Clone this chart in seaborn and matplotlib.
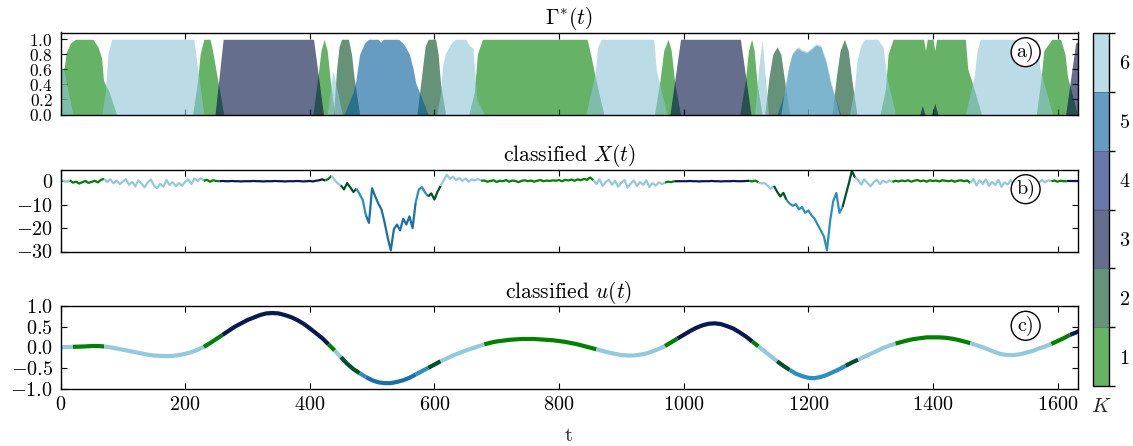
import numpy as np
import pandas as pd
import matplotlib
matplotlib.use("Agg")
import matplotlib.pyplot as plt
import seaborn as sns
from matplotlib.colors import ListedColormap, BoundaryNorm, to_rgb
from matplotlib.cm import ScalarMappable

# ---------------- data ----------------
# classified control signal u(t), sampled every 10 time units
t_u = np.arange(0, 1641, 10)
u_vals = [
    0.00, 0.005, 0.01, 0.015, 0.02, 0.03, 0.03, 0.02, 0.00, -0.03,
    -0.06, -0.09, -0.12, -0.15, -0.18, -0.20, -0.21, -0.215, -0.21, -0.19,
    -0.16, -0.12, -0.06, 0.01, 0.10, 0.20, 0.30, 0.40, 0.50, 0.58,
    0.66, 0.72, 0.78, 0.82, 0.83, 0.82, 0.78, 0.73, 0.66, 0.57,
    0.46, 0.34, 0.22, 0.07, -0.08, -0.24, -0.40, -0.53, -0.63, -0.72,
    -0.80, -0.85, -0.87, -0.87, -0.84, -0.80, -0.74, -0.66, -0.58, -0.50,
    -0.42, -0.34, -0.27, -0.20, -0.14, -0.08, -0.03, 0.02, 0.07, 0.11,
    0.14, 0.16, 0.18, 0.19, 0.20, 0.20, 0.20, 0.19, 0.18, 0.17,
    0.15, 0.13, 0.10, 0.07, 0.03, -0.01, -0.05, -0.09, -0.13, -0.16,
    -0.19, -0.20, -0.20, -0.18, -0.15, -0.10, -0.04, 0.03, 0.12, 0.21,
    0.30, 0.39, 0.47, 0.53, 0.57, 0.58, 0.56, 0.51, 0.45, 0.36,
    0.26, 0.14, 0.02, -0.10, -0.22, -0.34, -0.45, -0.55, -0.64, -0.70,
    -0.74, -0.75, -0.72, -0.67, -0.60, -0.53, -0.45, -0.37, -0.30, -0.23,
    -0.16, -0.09, -0.02, 0.04, 0.09, 0.13, 0.17, 0.20, 0.22, 0.24,
    0.24, 0.24, 0.23, 0.21, 0.18, 0.14, 0.10, 0.05, 0.00, -0.06,
    -0.12, -0.17, -0.19, -0.19, -0.17, -0.13, -0.09, -0.03, 0.02, 0.08,
    0.15, 0.22, 0.30, 0.36, 0.42,
]

# classified state X(t), sampled every 5 time units
t_x = np.arange(0, 1641, 5)
x_vals = [
    0.5, 0.2, -0.3, 0.4, -0.6, -0.2, -1.0, -0.4, 0.1, -0.7, -0.3, 0.2, -0.5, 0.6, 1.0, -0.4, 0.8, -0.9, 0.3, -1.2,
    -0.2, 0.9, -1.5, -0.3, -2.2, 0.4, -1.0, -2.6, -0.5, 0.7, -1.8, -3.0, -1.1, -2.4, 0.5, -1.6, -0.4, -2.1, -0.8, -1.9,
    -0.3, 0.8, -1.2, 1.2, 0.1, 1.3, 0.2, 0.6, -0.2, 0.4, 0.1, 0.0, 0.1, 0.0, 0.0, 0.1, 0.0, 0.0, -0.1, 0.0,
    0.0, 0.0, 0.1, 0.0, 0.0, -0.1, 0.0, 0.0, 0.0, 0.1, 0.0, 0.0, -0.1, 0.0, 0.0, 0.0, 0.1, 0.0, -0.1, 0.0,
    0.1, -0.1, 0.2, 0.4, 0.8, 0.3, 1.0, 2.3, 0.5, -1.0, -1.8, -3.5, -0.8, -2.6, -4.6, -3.2, -5.5, -8.0, -14.5, -17.8,
    -3.0, -6.5, -9.5, -12.0, -17.5, -24.0, -29.5, -20.5, -18.5, -21.0, -16.0, -18.5, -15.0, -20.0, -9.0, -3.5, -2.5, -4.8, -6.5, -5.2,
    -7.8, -4.5, -2.0, 0.5, 2.8, 1.0, 2.0, 0.4, 1.4, 0.2, 1.2, -0.2, 0.8, 0.3, 1.0, 0.2, 0.3, -0.2, 0.1, 0.4,
    -0.3, 0.2, 0.0, 0.5, -0.2, 0.3, 0.1, -0.4, 0.2, 0.4, 0.0, 0.3, -0.2, 0.2, 0.5, 0.0, 0.3, 0.1, 0.4, 0.2,
    0.5, 0.0, 0.6, 0.3, 0.7, 0.2, 0.8, 0.4, 1.0, 0.6, 1.6, 0.4, -1.2, 0.8, -2.0, -0.3, 0.6, -1.5, 0.2, -2.4,
    -0.6, 0.5, -2.8, -1.0, 0.3, -2.0, -0.4, -1.6, 0.4, -2.5, -0.8, -1.9, -0.5, -1.2, -0.6, -0.2, -0.4, 0.0, 0.0, 0.0,
    0.0, 0.0, 0.1, 0.0, 0.0, -0.1, 0.0, 0.0, 0.0, 0.1, 0.0, 0.0, -0.1, 0.0, 0.0, 0.0, 0.1, 0.0, 0.0, 0.0,
    0.1, 0.2, -0.1, 0.3, -0.5, -1.0, -0.8, -2.0, -3.2, -2.0, -4.5, -6.5, -5.0, -8.0, -9.5, -10.5, -9.8, -12.0, -11.0, -13.5,
    -12.5, -14.5, -16.0, -18.5, -21.0, -23.5, -29.5, -17.0, -8.5, -5.0, -13.5, -11.0, -6.0, -1.0, 4.5, 1.5, 0.5, -1.5, 0.8, -0.8,
    -2.2, -0.4, 0.6, -1.2, 0.2, -0.6, 0.3, -0.3, 0.2, -0.1, 0.3, 0.0, 0.4, -0.2, 0.2, 0.5, 0.0, 0.3, -0.2, 0.4,
    0.1, 0.3, -0.1, 0.4, 0.2, 0.0, 0.3, -0.2, 0.2, 0.4, 0.0, 0.3, -0.8, 0.9, -1.8, 0.4, -1.2, 0.8, -2.0, -0.3,
    -1.6, 0.6, -2.4, -0.5, -1.4, 0.5, -2.1, -0.2, -1.3, 0.8, -0.9, 0.4, -1.6, 0.2, -0.7, 0.6, -0.5, 0.4, 0.0, 0.3,
    -0.2, 0.2, 0.0, 0.0, 0.0, 0.0, 0.0, 0.0, 0.0,
]

# classification segments: start, end, cluster label (56 = mixture of 5 and 6)
seg_start = [0, 13, 65, 228, 250, 420, 433, 448, 473, 485, 569, 586, 607, 674, 854, 969, 982,
             1104, 1117, 1144, 1163, 1251, 1270, 1332, 1456, 1588, 1612]
seg_end = [13, 65, 228, 250, 420, 433, 448, 473, 485, 569, 586, 607, 674, 854, 969, 982, 1104,
           1117, 1144, 1163, 1251, 1270, 1332, 1456, 1588, 1612, 1642]
seg_k = [6, 1, 6, 1, 3, 1, 6, 2, 56, 5, 56, 2, 6, 1, 6, 1, 3,
         1, 6, 2, 56, 2, 6, 1, 6, 1, 3]

# affiliation weights Gamma*_K(t), as (t, value) vertices
gamma1_t = [0, 6, 9, 16, 24, 52, 60, 66, 69, 78, 90,
            212, 220, 224, 230, 240, 244, 262,
            405, 413, 418, 423, 428, 433, 440,
            655, 664, 669, 677, 845, 852, 858, 872,
            953, 962, 968, 975, 980, 986, 995,
            1090, 1099, 1104, 1109, 1113, 1118, 1126,
            1315, 1324, 1328, 1336, 1385, 1388, 1391, 1400, 1403, 1406, 1452, 1456, 1462, 1478,
            1566, 1573, 1578, 1591, 1605, 1612, 1616, 1632]
gamma1_v = [0.60, 0.62, 0.82, 0.95, 1.0, 1.0, 0.9, 0.75, 0.45, 0.3, 0.0,
            0.0, 0.45, 0.8, 1.0, 1.0, 0.85, 0.0,
            0.0, 0.5, 0.85, 1.0, 0.85, 0.45, 0.0,
            0.0, 0.3, 0.8, 1.0, 1.0, 0.75, 0.5, 0.0,
            0.0, 0.45, 0.85, 1.0, 0.85, 0.4, 0.0,
            0.0, 0.45, 0.85, 1.0, 0.85, 0.4, 0.0,
            0.0, 0.35, 0.8, 1.0, 1.0, 0.85, 1.0, 1.0, 0.85, 1.0, 1.0, 0.6, 0.45, 0.0,
            0.0, 0.45, 0.85, 1.0, 1.0, 0.8, 0.5, 0.0]
gamma2_t = [438, 443, 447, 451, 462, 467, 471, 480,
            572, 580, 585, 590, 602, 606, 610, 618,
            1130, 1137, 1143, 1150, 1156, 1162, 1170,
            1238, 1245, 1251, 1258, 1264, 1270, 1278]
gamma2_v = [0.0, 0.6, 0.9, 1.0, 1.0, 0.8, 0.5, 0.0,
            0.0, 0.55, 0.9, 1.0, 1.0, 0.8, 0.4, 0.0,
            0.0, 0.5, 0.8, 0.9, 0.8, 0.45, 0.0,
            0.0, 0.5, 0.85, 1.0, 0.85, 0.45, 0.0]
gamma3_t = [248, 261, 406, 422,
            978, 995, 1091, 1108,
            1379, 1383, 1387, 1398, 1403, 1408,
            1613, 1629, 1642]
gamma3_v = [0.0, 1.0, 1.0, 0.0,
            0.0, 1.0, 1.0, 0.0,
            0.0, 0.12, 0.0, 0.0, 0.15, 0.0,
            0.0, 0.95, 1.0]
gamma5_t = [455, 470, 474, 480, 488, 494, 510, 514, 518, 543, 552, 560, 566, 570, 590,
            1150, 1162, 1168, 1174, 1182, 1190, 1198, 1204, 1212, 1220, 1228, 1236, 1252]
gamma5_v = [0.0, 0.3, 0.45, 0.8, 0.95, 1.0, 1.0, 0.96, 1.0, 1.0, 0.92, 0.8, 0.6, 0.42, 0.0,
            0.0, 0.3, 0.6, 0.8, 0.88, 0.84, 0.82, 0.86, 0.92, 0.9, 0.7, 0.4, 0.0]
gamma6_t = [0, 5, 20,
            66, 72, 76, 82, 214, 218, 230,
            428, 437, 441, 452,
            604, 610, 613, 618, 628, 634, 650, 656, 662, 668, 680,
            843, 858, 862, 868, 952, 956, 973,
            1114, 1120, 1126, 1130, 1136,
            1156, 1164, 1170, 1176, 1184, 1190, 1198, 1204, 1212, 1220, 1228, 1236, 1250,
            1266, 1274, 1278, 1284, 1290, 1311, 1320, 1326, 1340,
            1452, 1466, 1471, 1476, 1567, 1572, 1592]
gamma6_v = [0.62, 0.6, 0.0,
            0.0, 0.3, 0.8, 1.0, 1.0, 0.75, 0.0,
            0.0, 0.58, 0.45, 0.0,
            0.0, 0.3, 0.65, 0.82, 0.96, 1.0, 1.0, 0.92, 0.88, 0.2, 0.0,
            0.0, 0.55, 0.9, 1.0, 1.0, 0.6, 0.0,
            0.0, 0.6, 1.0, 0.6, 0.0,
            0.0, 0.45, 0.7, 0.84, 0.9, 0.86, 0.84, 0.88, 0.94, 0.92, 0.74, 0.45, 0.0,
            0.0, 0.35, 0.7, 0.92, 1.0, 1.0, 0.9, 0.5, 0.0,
            0.0, 0.5, 0.85, 1.0, 1.0, 0.6, 0.0]

k_levels = [1, 2, 3, 4, 5, 6]

# ---------------- style ----------------
fill_base = {1: "#008000", 2: "#004921", 3: "#000d43", 4: "#002071", 5: "#005a99", 6: "#8fc6d7"}
line_pal = {1: "#008000", 2: "#00522a", 3: "#08194f", 5: "#1b6fa8", 56: "#2b8fbd", 6: "#93c8dd"}
ALPHA = 0.6
TICK_FS = 14.5
TITLE_FS = 15.5

sns.set_theme(style="ticks")
plt.rcParams.update({
    "font.family": ["cmr10", "DejaVu Serif"],
    "mathtext.fontset": "cm",
    "axes.formatter.use_mathtext": True,
    "axes.unicode_minus": True,
    "font.size": TICK_FS,
    "axes.titlesize": TITLE_FS,
    "axes.labelsize": 15,
    "xtick.labelsize": TICK_FS,
    "ytick.labelsize": TICK_FS,
    "axes.edgecolor": "black",
    "axes.linewidth": 1.0,
    "xtick.color": "black",
    "ytick.color": "black",
    "text.color": "black",
})

W_PX, H_PX = 1133, 446
fig = plt.figure(figsize=(W_PX / 100, H_PX / 100), dpi=100)


def box(x0, y0, x1, y1):
    return [x0 / W_PX, 1 - y1 / H_PX, (x1 - x0) / W_PX, (y1 - y0) / H_PX]


ax_a = fig.add_axes(box(60.5, 32.5, 1077.5, 114.5))
ax_b = fig.add_axes(box(60.5, 169.5, 1077.5, 251.5))
ax_c = fig.add_axes(box(60.5, 306.0, 1077.5, 388.5))
cax = fig.add_axes(box(1093, 33, 1109, 386))

XMAX = 1632

# ---- panel a: Gamma*(t) ----
gammas = {1: (gamma1_t, gamma1_v), 2: (gamma2_t, gamma2_v), 3: (gamma3_t, gamma3_v),
          5: (gamma5_t, gamma5_v), 6: (gamma6_t, gamma6_v)}
for k in k_levels:
    if k not in gammas:
        continue
    gt, gv = gammas[k]
    ax_a.fill_between(gt, 0, gv, color=fill_base[k], alpha=ALPHA, lw=0)
ax_a.set_ylim(0, 1.09)
ax_a.set_yticks([0, 0.2, 0.4, 0.6, 0.8, 1.0])
ax_a.set_title(r"$\Gamma^{*}(t)$", pad=6)


# ---- helper: segment-coloured line through seaborn ----
def seg_frame(t, v):
    t = np.asarray(t)
    v = np.asarray(v)
    idx = np.searchsorted(np.asarray(seg_end), t, side="left")
    idx = np.clip(idx, 0, len(seg_end) - 1)
    rows = []
    for i in range(len(seg_k)):
        sel = np.where(idx == i)[0]
        if len(sel) == 0:
            continue
        if sel[-1] + 1 < len(t):
            sel = np.append(sel, sel[-1] + 1)
        for j in sel:
            rows.append((t[j], v[j], f"s{i:02d}"))
    df = pd.DataFrame(rows, columns=["t", "v", "seg"])
    used = set(df["seg"])
    pal = {f"s{i:02d}": line_pal[seg_k[i]] for i in range(len(seg_k)) if f"s{i:02d}" in used}
    return df, pal


df_x, pal_x = seg_frame(t_x, x_vals)
sns.lineplot(data=df_x, x="t", y="v", hue="seg", palette=pal_x, legend=False,
             estimator=None, sort=False, lw=1.6, ax=ax_b, solid_capstyle="butt")
ax_b.set_ylim(-30, 5)
ax_b.set_yticks([0, -10, -20, -30])
ax_b.set_title(r"classified $X(t)$", pad=6)

df_u, pal_u = seg_frame(t_u, u_vals)
sns.lineplot(data=df_u, x="t", y="v", hue="seg", palette=pal_u, legend=False,
             estimator=None, sort=False, lw=3.0, ax=ax_c, solid_capstyle="butt")
ax_c.set_ylim(-1.0, 1.0)
ax_c.set_yticks([-1.0, -0.5, 0.0, 0.5, 1.0])
ax_c.set_title(r"classified $u(t)$", pad=6)
ax_c.set_xlabel("t", labelpad=9)

for ax, lab in zip([ax_a, ax_b, ax_c], ["a)", "b)", "c)"]):
    ax.set_xlim(0, XMAX)
    ax.set_xticks(np.arange(0, 1601, 200))
    ax.set_ylabel("")
    ax.tick_params(direction="in", top=True, right=True, length=4, width=0.8, pad=5.5)
    if ax is not ax_c:
        ax.set_xlabel("")
        ax.tick_params(labelbottom=False)
    for sp in ax.spines.values():
        sp.set_linewidth(1.0)
        sp.set_color("black")
    ax.text(0.949, 0.76, lab, transform=ax.transAxes, ha="center", va="center", fontsize=14.5,
            bbox=dict(boxstyle="circle,pad=0.22", fc="white", ec="black", lw=1.0), zorder=10)

# panel a has six tightly stacked tick labels; keep them a touch smaller
ax_a.tick_params(axis="y", labelsize=12.5, pad=5.5)

# ---- colour bar ----
cb_cols = [tuple(ALPHA * np.array(to_rgb(fill_base[k])) + (1 - ALPHA)) for k in k_levels]
cmap = ListedColormap(cb_cols)
norm = BoundaryNorm(np.arange(0.5, 7.0, 1.0), cmap.N)
cb = fig.colorbar(ScalarMappable(norm=norm, cmap=cmap), cax=cax, ticks=k_levels, drawedges=True)
cb.dividers.set_color("#3a4a6a")
cb.dividers.set_linewidth(0.6)
cb.dividers.set_alpha(0.5)
cb.outline.set_linewidth(1.0)
cb.outline.set_edgecolor("black")
cax.tick_params(direction="in", length=3, width=0.8, labelsize=TICK_FS, pad=7)
cax.set_xlabel(r"$K$", fontsize=15, labelpad=9)

fig.savefig("out.png", dpi=100)
